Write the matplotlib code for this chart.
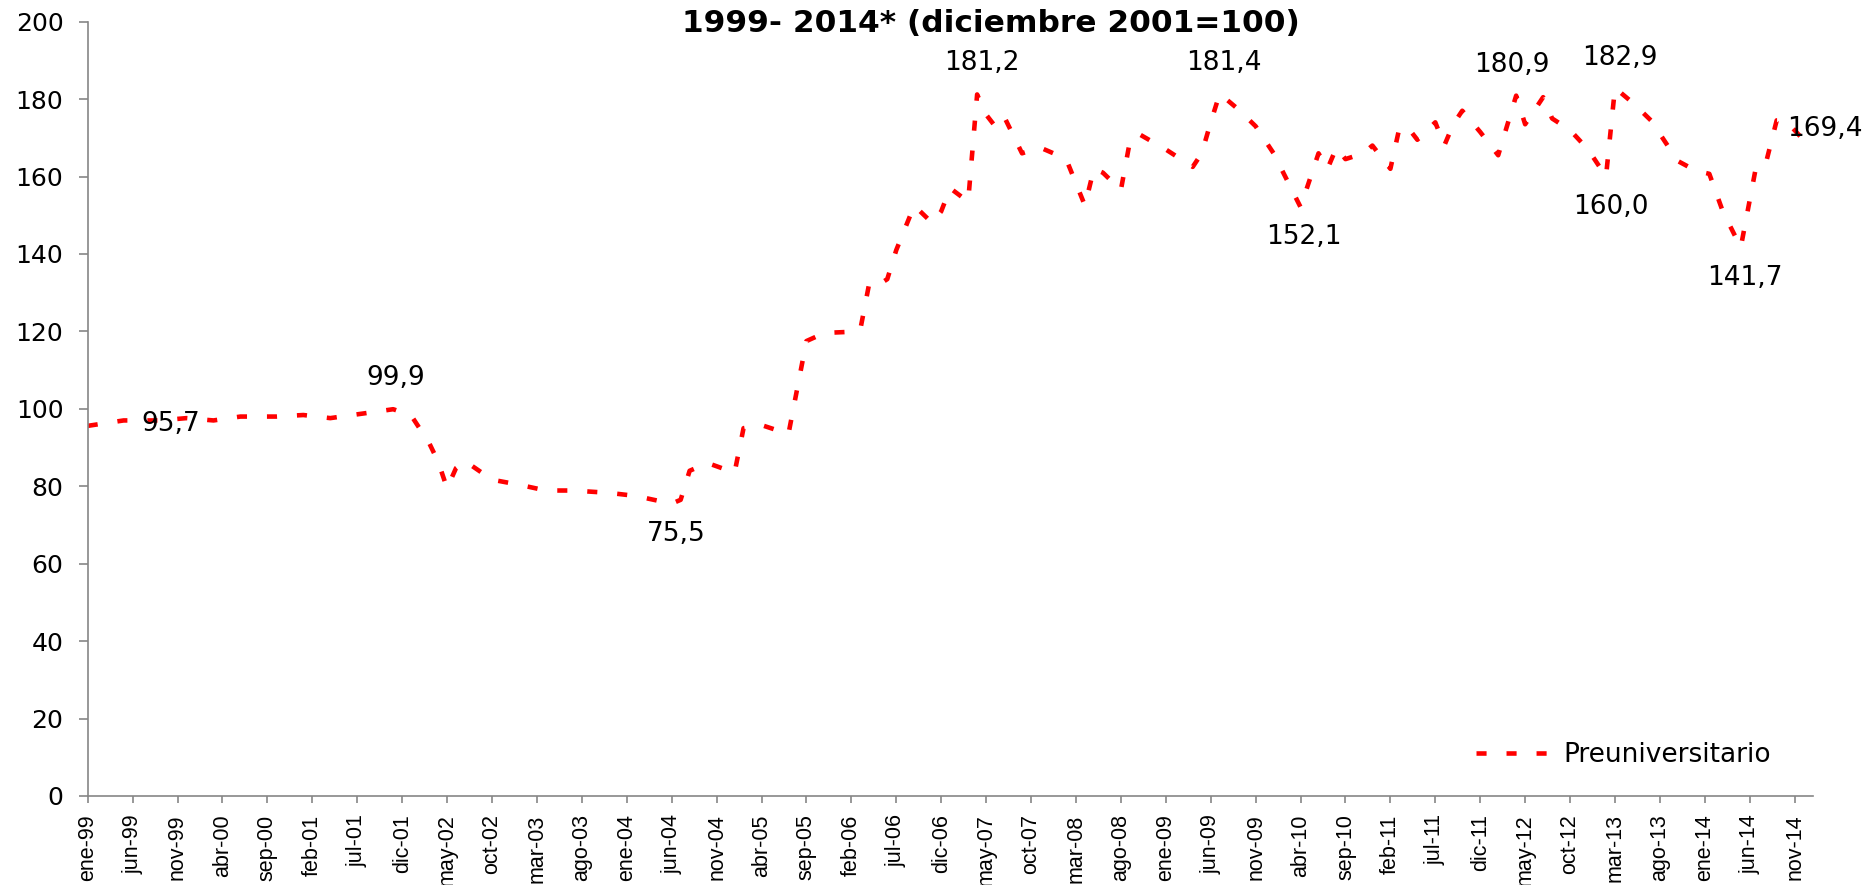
import matplotlib
matplotlib.use('Agg')
import matplotlib.pyplot as plt
import matplotlib.transforms as mtransforms

# month index (0 = ene-99) and index value (diciembre 2001 = 100)
months = [0, 4, 8, 11, 14, 17, 21, 24, 27, 31, 34, 36, 38, 39, 40, 41, 42, 45, 48,
          51, 54, 58, 61, 65, 66, 67, 69, 72, 73, 75, 78, 80, 82, 85, 86, 87, 88,
          89, 90, 92, 94, 95, 96, 98, 99, 100, 101, 102, 104, 106, 108, 109, 111,
          112, 113, 115, 116, 117, 120, 123, 124, 125, 126, 128, 130, 132, 135,
          137, 138, 139, 140, 142, 143, 145, 146, 147, 148, 150, 151, 152, 153,
          155, 157, 159, 160, 162, 163, 165, 167, 169, 170, 172, 174, 177, 179,
          180.5, 182, 184, 185.7, 186.8, 188, 189, 191]
values = [95.6, 97.0, 97.0, 97.6, 97.0, 98.0, 98.0, 98.4, 97.6, 98.9, 99.9, 98.3,
          91.2, 86.4, 79.5, 84.7, 86.5, 81.7, 80.4, 78.9, 78.9, 78.3, 77.5, 75.5,
          76.5, 84.0, 86.0, 83.5, 95.0, 95.8, 93.5, 117.5, 119.6, 119.9, 120.5,
          132.5, 132.0, 133.5, 141.0, 152.5, 148.0, 151.0, 157.0, 153.5, 181.2,
          176.0, 173.0, 175.5, 166.0, 167.5, 165.5, 164.0, 152.5, 162.0, 161.0,
          156.5, 169.0, 171.0, 167.0, 162.5, 166.0, 174.0, 181.4, 177.5, 173.0,
          166.0, 152.1, 166.0, 162.0, 167.5, 164.5, 166.0, 168.0, 162.0, 172.5,
          172.5, 169.5, 174.0, 168.0, 173.5, 177.0, 171.5, 165.5, 180.9, 173.5,
          180.5, 175.0, 172.0, 167.0, 160.0, 182.9, 179.0, 174.5, 164.0, 161.5,
          160.7, 151.0, 141.7, 162.5, 163.5, 174.5, 174.5, 169.4]

tick_pos = list(range(0, 191, 5))
tick_labels = ['ene-99', 'jun-99', 'nov-99', 'abr-00', 'sep-00', 'feb-01', 'jul-01',
               'dic-01', 'may-02', 'oct-02', 'mar-03', 'ago-03', 'ene-04', 'jun-04',
               'nov-04', 'abr-05', 'sep-05', 'feb-06', 'jul-06', 'dic-06', 'may-07',
               'oct-07', 'mar-08', 'ago-08', 'ene-09', 'jun-09', 'nov-09', 'abr-10',
               'sep-10', 'feb-11', 'jul-11', 'dic-11', 'may-12', 'oct-12', 'mar-13',
               'ago-13', 'ene-14', 'jun-14', 'nov-14']

# data labels: text, month position, value position
lbl_text = ['95,7', '99,9', '75,5', '181,2', '181,4', '152,1', '180,9', '182,9',
            '160,0', '141,7', '169,4']
lbl_x = [9.2, 34.3, 65.5, 99.5, 126.5, 135.4, 158.5, 170.5, 169.5, 184.5, 193.4]
lbl_y = [96.1, 108.0, 67.7, 189.2, 189.2, 144.3, 188.7, 190.7, 152.1, 133.7, 172.4]

fig = plt.figure(figsize=(18.66, 8.85), dpi=100, facecolor='white')
ax = fig.add_axes([0.0470, 0.1006, 0.9244, 0.8749])

line, = ax.plot(months, values, color='#FF0000', linewidth=3.3,
                label='Preuniversitario')
line.set_dashes((2.2, 4.35))
line.set_dash_capstyle('butt')

ax.set_xlim(0, 192)
ax.set_ylim(0, 200)
ax.set_yticks(range(0, 201, 20))
ax.set_xticks(tick_pos)
ax.set_xticklabels(tick_labels, rotation=90, fontsize=15.5, family='Liberation Sans')
shift = mtransforms.ScaledTranslation(0.035, 0, fig.dpi_scale_trans)
for t in ax.get_xticklabels():
    t.set_transform(t.get_transform() + shift)
for t in ax.get_yticklabels():
    t.set_fontsize(18)
    t.set_family('DejaVu Sans')

for s in ['top', 'right']:
    ax.spines[s].set_visible(False)
for s in ['left', 'bottom']:
    ax.spines[s].set_color('#868686')
    ax.spines[s].set_linewidth(1.2)
ax.tick_params(axis='both', colors='#868686', labelcolor='black', width=1.2)
ax.tick_params(axis='x', length=5.3, pad=8)
ax.tick_params(axis='y', length=6.5, pad=11)

for t, x, y in zip(lbl_text, lbl_x, lbl_y):
    ax.annotate(t, (x, y), ha='center', va='center', fontsize=19,
                family='DejaVu Sans', annotation_clip=False)

fig.text(0.531, 0.9734, '1999- 2014* (diciembre 2001=100)', ha='center', va='center',
         fontsize=22.5, fontweight='bold', family='DejaVu Sans')

leg = ax.legend(loc='center left', bbox_to_anchor=(1476 / 1866, 1 - 755 / 885),
                bbox_transform=fig.transFigure, frameon=False, borderpad=0,
                borderaxespad=0, handlelength=2.7, handletextpad=0.62,
                prop={'family': 'DejaVu Sans', 'size': 19})

plt.savefig('out.png', dpi=100, facecolor='white')
plt.close()
